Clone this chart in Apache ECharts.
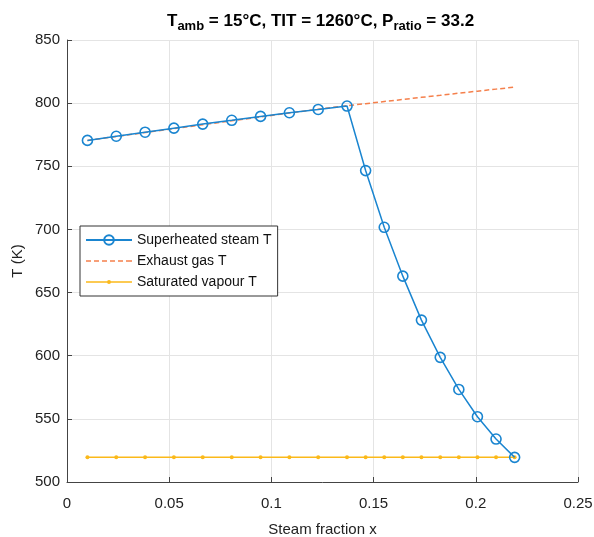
<!DOCTYPE html>
<html>
<head>
<meta charset="utf-8">
<script src="https://cdn.jsdelivr.net/npm/echarts@6/dist/echarts.min.js"></script>
<style>
html,body{margin:0;padding:0;background:#fff;}
#chart{width:594px;height:537px;}
</style>
</head>
<body>
<div id="chart"></div>
<script>
const steamFraction = [0.0100, 0.0241, 0.0382, 0.0523, 0.0664, 0.0806, 0.0947, 0.1088, 0.1229, 0.1370, 0.1461, 0.1552, 0.1643, 0.1734, 0.1826, 0.1917, 0.2008, 0.2099, 0.2190];
const superheatedSteamT = [770.5, 773.8, 777.0, 780.2, 783.4, 786.4, 789.5, 792.4, 795.0, 797.7, 746.6, 701.7, 663.0, 628.2, 598.7, 573.3, 551.7, 534.0, 519.5];
const exhaustGasT = [770.5, 773.6, 776.7, 779.8, 782.9, 786.0, 789.1, 792.2, 795.2, 798.0, 799.6, 801.3, 802.9, 804.6, 806.2, 807.9, 809.5, 811.1, 812.7];
const saturatedVapourT = [519.5, 519.5, 519.5, 519.5, 519.5, 519.5, 519.5, 519.5, 519.5, 519.5, 519.5, 519.5, 519.5, 519.5, 519.5, 519.5, 519.5, 519.5, 519.5];
const seriesNames = ['Superheated steam T', 'Exhaust gas T', 'Saturated vapour T'];
const xTicks = [0, 0.05, 0.1, 0.15, 0.2, 0.25];
const yTicks = [500, 550, 600, 650, 700, 750, 800, 850];

const pairs = (xs, ys) => xs.map((x, i) => [x, ys[i]]);
const FONT = '"Liberation Sans", Arial, sans-serif';
const BLUE = '#1a85d0', ORANGE = '#f5804c', YELLOW = '#fbb91a';
const chart = echarts.init(document.getElementById('chart'), null, {renderer: 'canvas'});
chart.setOption({
  animation: false,
  backgroundColor: '#fff',
  textStyle: {fontFamily: FONT},
  title: {
    left: 162,
    top: 8,
    text: '{t|T}{s|amb}{t| = 15°C, TIT = 1260°C, P}{s|ratio}{t| = 33.2}',
    textStyle: {
      rich: {
        t: {fontSize: 17, fontWeight: 'bold', color: '#000', fontFamily: FONT, lineHeight: 20, verticalAlign: 'top'},
        s: {fontSize: 13, fontWeight: 'bold', color: '#000', fontFamily: FONT, lineHeight: 16, verticalAlign: 'top', padding: [7, 0, 0, 0]}
      }
    }
  },
  grid: {left: 67, right: 16, top: 40, bottom: 55, containLabel: false, outerBoundsMode: 'none'},
  legend: {
    orient: 'vertical',
    left: 80, top: 226,
    backgroundColor: '#fff',
    borderColor: '#333', borderWidth: 1, borderRadius: 0,
    padding: [7, 6, 7, 5],
    itemWidth: 46, itemHeight: 12, itemGap: 7,
    textStyle: {fontSize: 14, color: '#111', fontFamily: FONT, lineHeight: 14},
    data: [
      {name: seriesNames[0]},
      {name: seriesNames[1], icon: 'path://M0 0h5v1.5H0z M8 0h5v1.5H8z M16 0h5v1.5h-5z M24 0h5v1.5h-5z M32 0h5v1.5h-5z M40 0h6v1.5h-6z'},
      {name: seriesNames[2], icon: 'path://M0 5.25h46v1.5H0z M21 6a2 2 0 1 1 4 0a2 2 0 1 1 -4 0z'}
    ]
  },
  xAxis: {
    type: 'value', min: 0, max: 0.25, interval: 0.05,
    name: 'Steam fraction x', nameLocation: 'middle', nameGap: 40,
    nameTextStyle: {fontSize: 15, color: '#222', fontFamily: FONT},
    axisLine: {show: true, lineStyle: {color: '#444', width: 1}},
    axisTick: {show: true, inside: true, length: 5, lineStyle: {color: '#444'}},
    axisLabel: {fontSize: 15, color: '#222', margin: 14, fontFamily: FONT,
      formatter: v => { const t = xTicks.find(k => Math.abs(k - v) < 1e-9); return String(t !== undefined ? t : v); }},
    splitLine: {show: true, lineStyle: {color: '#e4e4e4', width: 1}}
  },
  yAxis: {
    type: 'value', min: 500, max: 850, interval: 50,
    name: 'T (K)', nameLocation: 'middle', nameGap: 42, nameMoveOverlap: false,
    nameTextStyle: {fontSize: 15, color: '#222', fontFamily: FONT},
    axisLine: {show: true, lineStyle: {color: '#444', width: 1}},
    axisTick: {show: true, inside: true, length: 5, lineStyle: {color: '#444'}},
    axisLabel: {fontSize: 15, color: '#222', margin: 7, fontFamily: FONT,
      formatter: v => String(yTicks.find(k => k === v) ?? v)},
    splitLine: {show: true, lineStyle: {color: '#e4e4e4', width: 1}}
  },
  series: [
    {
      name: seriesNames[1], type: 'line', z: 2,
      data: pairs(steamFraction, exhaustGasT),
      symbol: 'none',
      lineStyle: {color: ORANGE, width: 1.5, type: [5, 3]},
      itemStyle: {color: ORANGE}
    },
    {
      name: seriesNames[0], type: 'line', z: 3,
      data: pairs(steamFraction, superheatedSteamT),
      symbol: 'circle', symbolSize: 10,
      lineStyle: {color: BLUE, width: 1.5},
      itemStyle: {color: 'rgba(255,255,255,0)', borderColor: BLUE, borderWidth: 1.6}
    },
    {
      name: seriesNames[2], type: 'line', z: 2,
      data: pairs(steamFraction, saturatedVapourT),
      symbol: 'circle', symbolSize: 4,
      lineStyle: {color: YELLOW, width: 1.5},
      itemStyle: {color: YELLOW}
    }
  ]
});
</script>
</body>
</html>
